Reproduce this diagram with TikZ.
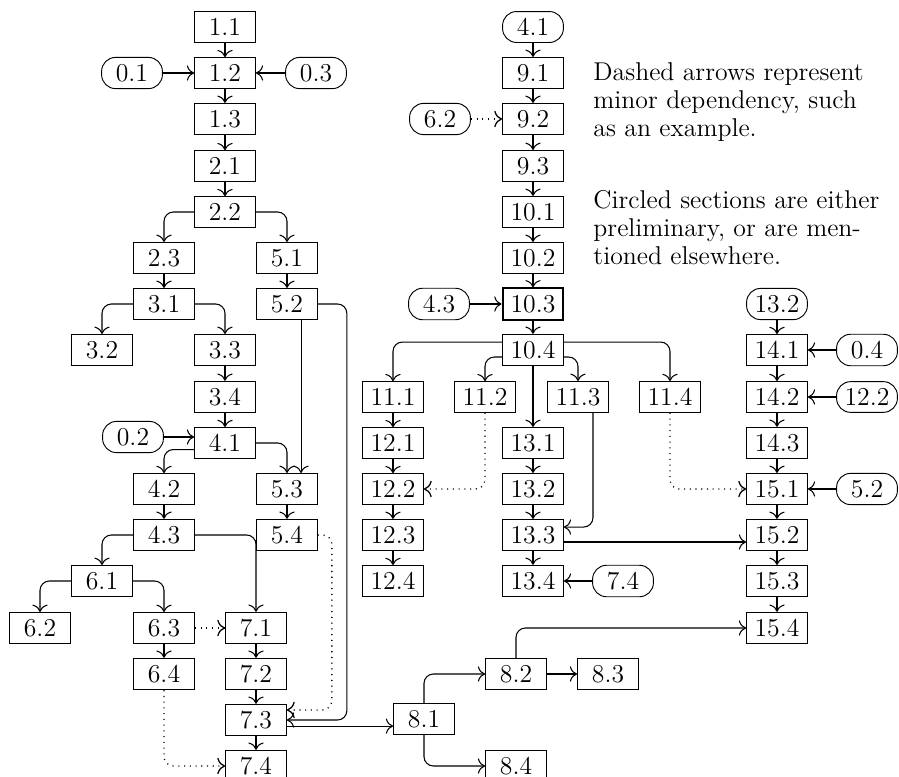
\documentclass[tikz,border=0pt]{standalone}
\usepackage{tikz}
\usetikzlibrary{arrows.meta}

\tikzset{
  secbox/.style={draw, line width=0.4pt, minimum width=26pt, inner xsep=3.33pt,
                 inner ysep=2.9pt, font=\fontsize{11pt}{12pt}\selectfont},
  prebox/.style={secbox, rounded corners=6pt},
  dep/.style={-{To[scale=1.2]}, line width=0.45pt, rounded corners=4pt},
  minor/.style={dep, dotted, line width=0.55pt},
  legend/.style={align=left, inner sep=0pt, anchor=north west,
                 font=\fontsize{11pt}{12pt}\selectfont}
}

\begin{document}
\begin{tikzpicture}[x=0.4274pt, y=-0.4274pt]
  \useasboundingbox (0,0) rectangle (899,777);

  % left part
  \node[secbox] (n11) at (225,27) {1.1};
  \node[secbox] (n12) at (225,73) {1.2};
  \node[prebox] (p01) at (132,73) {0.1};
  \node[prebox] (p03) at (316,73) {0.3};
  \node[secbox] (n13) at (225,119) {1.3};
  \node[secbox] (n21) at (225,166) {2.1};
  \node[secbox] (n22) at (225,212) {2.2};
  \node[secbox] (n23) at (164,258) {2.3};
  \node[secbox] (n51) at (287,258) {5.1};
  \node[secbox] (n31) at (164,304) {3.1};
  \node[secbox] (n52) at (287,304) {5.2};
  \node[secbox] (n32) at (102,350) {3.2};
  \node[secbox] (n33) at (225,350) {3.3};
  \node[secbox] (n34) at (225,397) {3.4};
  \node[secbox] (n41) at (225,443) {4.1};
  \node[prebox] (p02) at (133,437) {0.2};
  \node[secbox] (n42) at (164,489) {4.2};
  \node[secbox] (n53) at (287,489) {5.3};
  \node[secbox] (n43) at (164,535) {4.3};
  \node[secbox] (n54) at (287,535) {5.4};
  \node[secbox] (n61) at (102,581) {6.1};
  \node[secbox] (n62) at (40,628) {6.2};
  \node[secbox] (n63) at (164,628) {6.3};
  \node[secbox] (n71) at (256,628) {7.1};
  \node[secbox] (n64) at (164,674) {6.4};
  \node[secbox] (n72) at (256,674) {7.2};
  \node[secbox] (n73) at (256,720) {7.3};
  \node[secbox] (n74) at (256,766) {7.4};

  % chapter 8
  \node[secbox] (n81) at (424,719) {8.1};
  \node[secbox] (n82) at (516,674) {8.2};
  \node[secbox] (n83) at (608,674) {8.3};
  \node[secbox] (n84) at (516,766) {8.4};

  % right part
  \node[prebox] (r41) at (533,27) {4.1};
  \node[secbox] (n91) at (533,73) {9.1};
  \node[prebox] (r62) at (440,119) {6.2};
  \node[secbox] (n92) at (533,119) {9.2};
  \node[secbox] (n93) at (533,166) {9.3};
  \node[secbox] (n101) at (533,212) {10.1};
  \node[secbox] (n102) at (533,258) {10.2};
  \node[prebox] (r43) at (439,304) {4.3};
  \node[secbox, line width=0.9pt] (n103) at (533,304) {10.3};
  \node[secbox] (n104) at (533,350) {10.4};
  \node[secbox] (n111) at (393,397) {11.1};
  \node[secbox] (n112) at (485,397) {11.2};
  \node[secbox] (n113) at (578,397) {11.3};
  \node[secbox] (n114) at (670,397) {11.4};
  \node[secbox] (n121) at (393,443) {12.1};
  \node[secbox] (n122) at (393,489) {12.2};
  \node[secbox] (n123) at (393,535) {12.3};
  \node[secbox] (n124) at (393,581) {12.4};
  \node[secbox] (n131) at (533,443) {13.1};
  \node[secbox] (n132) at (533,489) {13.2};
  \node[secbox] (n133) at (533,535) {13.3};
  \node[secbox] (n134) at (533,581) {13.4};
  \node[prebox] (r74) at (623,581) {7.4};
  \node[prebox] (r132) at (777,304) {13.2};
  \node[secbox] (n141) at (777,350) {14.1};
  \node[prebox] (r04) at (867,350) {0.4};
  \node[secbox] (n142) at (777,397) {14.2};
  \node[prebox] (r122) at (867,397) {12.2};
  \node[secbox] (n143) at (777,443) {14.3};
  \node[secbox] (n151) at (777,489) {15.1};
  \node[prebox] (r52) at (867,489) {5.2};
  \node[secbox] (n152) at (777,535) {15.2};
  \node[secbox] (n153) at (777,581) {15.3};
  \node[secbox] (n154) at (777,628) {15.4};

  % legend
  \node[legend] (legA) at (593,62) {Dashed arrows represent\\ minor dependency, such\\ as an example.};
  \node[legend] (legB) at (593,190) {Circled sections are either\\ preliminary, or are men-\\ tioned elsewhere.};

  % arrows, left part
  \draw[dep] (n11) -- (n12);
  \draw[dep] (n12) -- (n13);
  \draw[dep] (n13) -- (n21);
  \draw[dep] (n21) -- (n22);
  \draw[dep] (p01) -- (n12);
  \draw[dep] (p03) -- (n12);
  \draw[dep] (n22) -| (n23);
  \draw[dep] (n22) -| (n51);
  \draw[dep] (n23) -- (n31);
  \draw[dep] (n51) -- (n52);
  \draw[dep] (n31) -| (n32);
  \draw[dep] (n31) -| (n33);
  \draw[dep] (n33) -- (n34);
  \draw[dep] (n34) -- (n41);
  \draw[dep] (p02.east) -- (p02.east -| n41.west);
  \draw[dep] ([yshift=-2.8pt]n41.west) -| (n42);
  \draw[dep] (n41) -| (n53);
  \draw[dep] ([xshift=6pt]n52.south) -- ([xshift=6pt]n53.north);
  \draw[dep] (n52.east) -- ++(29,0) |- (n73.east);
  \draw[dep] (n42) -- (n43);
  \draw[dep] (n53) -- (n54);
  \draw[minor] (n54.east) -- ++(14,0) |- ([yshift=4.3pt]n73.east);
  \draw[dep] (n43) -| (n61);
  \draw[dep] (n43) -| (n71);
  \draw[dep] (n61) -| (n62);
  \draw[dep] (n61) -| (n63);
  \draw[dep] (n63) -- (n64);
  \draw[minor] (n63) -- (n71);
  \draw[minor] (n64) |- (n74);
  \draw[dep] (n71) -- (n72);
  \draw[dep] (n72) -- (n73);
  \draw[dep] (n73) -- (n74);
  \draw[dep] ([yshift=-2.6pt]n73.east) -- ([yshift=-2.6pt]n73.east -| n81.west);
  \draw[dep] (n81) |- (n82);
  \draw[dep] (n81) |- (n84);
  \draw[dep] (n82) -- (n83);
  \draw[dep] (n82) |- (n154);

  % arrows, right part
  \draw[dep] (r41) -- (n91);
  \draw[dep] (n91) -- (n92);
  \draw[minor] (r62) -- (n92);
  \draw[dep] (n92) -- (n93);
  \draw[dep] (n93) -- (n101);
  \draw[dep] (n101) -- (n102);
  \draw[dep] (n102) -- (n103);
  \draw[dep] (r43) -- (n103);
  \draw[dep] (n103) -- (n104);
  \draw[dep] ([yshift=3.4pt]n104.west) -| (n111);
  \draw[dep] ([yshift=-3pt]n104.west) -| (n112);
  \draw[dep] ([yshift=-3pt]n104.east) -| (n113);
  \draw[dep] ([yshift=3.4pt]n104.east) -| (n114);
  \draw[dep] (n104) -- (n131);
  \draw[dep] (n111) -- (n121);
  \draw[dep] (n121) -- (n122);
  \draw[dep] (n122) -- (n123);
  \draw[dep] (n123) -- (n124);
  \draw[minor] (n112) |- (n122);
  \draw[dep] (n131) -- (n132);
  \draw[dep] (n132) -- (n133);
  \draw[dep] (n133) -- (n134);
  \draw[dep] ([xshift=6.4pt]n113.south) |- ([yshift=3.4pt]n133.east);
  \draw[dep] ([yshift=-3pt]n133.east) -- ([yshift=-3pt]n133.east -| n152.west);
  \draw[dep] (r74) -- (n134);
  \draw[minor] (n114) |- (n151);
  \draw[dep] (r132) -- (n141);
  \draw[dep] (n141) -- (n142);
  \draw[dep] (n142) -- (n143);
  \draw[dep] (n143) -- (n151);
  \draw[dep] (n151) -- (n152);
  \draw[dep] (n152) -- (n153);
  \draw[dep] (n153) -- (n154);
  \draw[dep] (r04) -- (n141);
  \draw[dep] (r122) -- (n142);
  \draw[dep] (r52) -- (n151);
\end{tikzpicture}
\end{document}
